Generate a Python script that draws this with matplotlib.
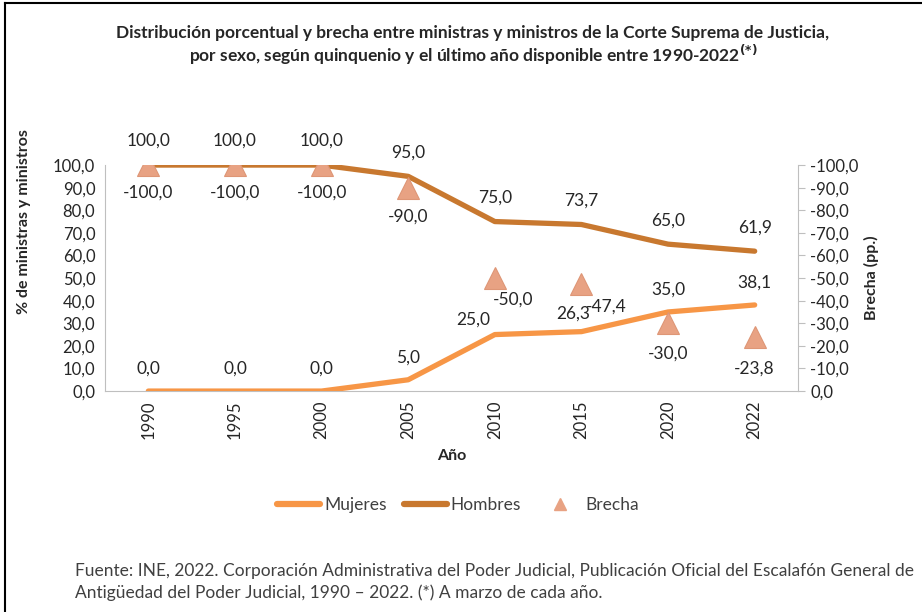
import numpy as np
import matplotlib.pyplot as plt
from matplotlib.lines import Line2D

plt.rcParams['font.family'] = ['Lato', 'DejaVu Sans']

# data
years = ['1990', '1995', '2000', '2005', '2010', '2015', '2020', '2022']
mujeres = [0.0, 0.0, 0.0, 5.0, 25.0, 26.3, 35.0, 38.1]
hombres = [100.0, 100.0, 100.0, 95.0, 75.0, 73.7, 65.0, 61.9]
brecha = [-100.0, -100.0, -100.0, -90.0, -50.0, -47.4, -30.0, -23.8]

c_muj = '#F79646'
c_hom = '#C8782F'
c_bre = '#E8A283'
txt = '#262626'


def fmt(v):
    return f'{v:.1f}'.replace('.', ',')


fig = plt.figure(figsize=(9.22, 6.12), dpi=100)
ax = fig.add_axes([0.1139, 0.361, 0.7516, 0.3693])
ax2 = ax.twinx()

x = np.arange(len(years))
ax.plot(x, mujeres, color=c_muj, lw=3.8, solid_capstyle='round', zorder=3)
ax.plot(x, hombres, color=c_hom, lw=3.8, solid_capstyle='round', zorder=3)
ax2.plot(x, brecha, ls='none', marker='^', ms=16, color=c_bre, mec='#DE9676', mew=0.8, zorder=2)

ax.set_xlim(-0.5, len(years) - 0.5)
ax.set_ylim(0, 100)
ax2.set_ylim(0, -100)

ax.set_yticks(np.arange(0, 101, 10))
ax.set_yticklabels([fmt(v) for v in np.arange(0, 101, 10)])
ax2.set_yticks(np.arange(0, -101, -10))
ax2.set_yticklabels([fmt(v) for v in np.arange(0, -101, -10)])
ax.set_xticks(x)
ax.set_xticklabels(years, rotation=90)

for a in (ax, ax2):
    for s in a.spines.values():
        s.set_visible(False)
    a.tick_params(labelsize=12, colors=txt)
ax.spines['left'].set_visible(True)
ax.spines['left'].set_color('#BFBFBF')
ax.spines['bottom'].set_visible(True)
ax.spines['bottom'].set_color('#BFBFBF')
ax2.spines['right'].set_visible(True)
ax2.spines['right'].set_color('#BFBFBF')
ax.tick_params(axis='both', length=0, pad=7)
ax2.tick_params(axis='y', length=5, color='#BFBFBF', pad=4)

ax.set_xlabel('Año', fontsize=11.5, fontweight='bold', color=txt, labelpad=7)
ax.set_ylabel('% de ministras y ministros', fontsize=11.5, fontweight='bold', color=txt)
ax.yaxis.set_label_coords(-0.107, 0.75)
ax2.set_ylabel('Brecha (pp.)', fontsize=11.5, fontweight='bold', color=txt)
ax2.yaxis.set_label_coords(1.095, 0.5)

# data labels
muj_dx = [0, 0, 0, 0, -22, -8, 0, 0]
muj_dy = [22, 22, 22, 22, 15, 18, 22, 22]
bre_dx = [0, 0, 0, 0, 18, 25, 0, 0]
bre_dy = [-28, -28, -28, -29, -22, -23, -30, -31]
for i in range(len(years)):
    ax.annotate(fmt(hombres[i]), (x[i], hombres[i]), xytext=(0, 24), textcoords='offset pixels',
                ha='center', va='center', fontsize=12.5, color=txt)
    ax.annotate(fmt(mujeres[i]), (x[i], mujeres[i]), xytext=(muj_dx[i], muj_dy[i]),
                textcoords='offset pixels', ha='center', va='center', fontsize=12.5, color=txt)
    ax2.annotate(fmt(brecha[i]), (x[i], brecha[i]), xytext=(bre_dx[i], bre_dy[i]),
                 textcoords='offset pixels', ha='center', va='center', fontsize=12.5, color=txt)

fig.text(473 / 922, 1 - 33 / 612, 'Distribución porcentual y brecha entre ministras y ministros de la Corte Suprema de Justicia,',
         ha='center', va='center', fontsize=12.5, fontweight='bold', color=txt)
fig.text(473 / 922, 1 - 55 / 612, r'por sexo, según quinquenio y el último año disponible entre 1990-2022$^{\mathbf{(*)}}$',
         ha='center', va='center', fontsize=12.5, fontweight='bold', color=txt)

handles = [Line2D([], [], color=c_muj, lw=4.5, solid_capstyle='round'),
           Line2D([], [], color=c_hom, lw=4.5, solid_capstyle='round'),
           Line2D([], [], ls='none', marker='^', ms=8, color=c_bre)]
fig.legend(handles, ['Mujeres', 'Hombres', 'Brecha'], loc='center', bbox_to_anchor=(458 / 922, 1 - 505 / 612),
           ncol=3, frameon=False, fontsize=12.5, handlelength=2.5, handletextpad=0.2, columnspacing=1.0,
           labelcolor='#404040')

fig.text(75 / 922, 1 - 571 / 612, 'Fuente: INE, 2022. Corporación Administrativa del Poder Judicial, Publicación Oficial del Escalafón General de',
         ha='left', va='center', fontsize=12.5, color='#404040')
fig.text(75 / 922, 1 - 593 / 612, 'Antigüedad del Poder Judicial, 1990 – 2022. (*) A marzo de cada año.',
         ha='left', va='center', fontsize=12.5, color='#404040')

# frame
fig.add_artist(Line2D([5 / 922, 1], [1 - 3 / 612, 1 - 3 / 612], color='black', lw=1.5, transform=fig.transFigure))
fig.add_artist(Line2D([5 / 922, 5 / 922], [0, 1 - 3 / 612], color='black', lw=1.5, transform=fig.transFigure))

fig.savefig('out.png', dpi=100)
